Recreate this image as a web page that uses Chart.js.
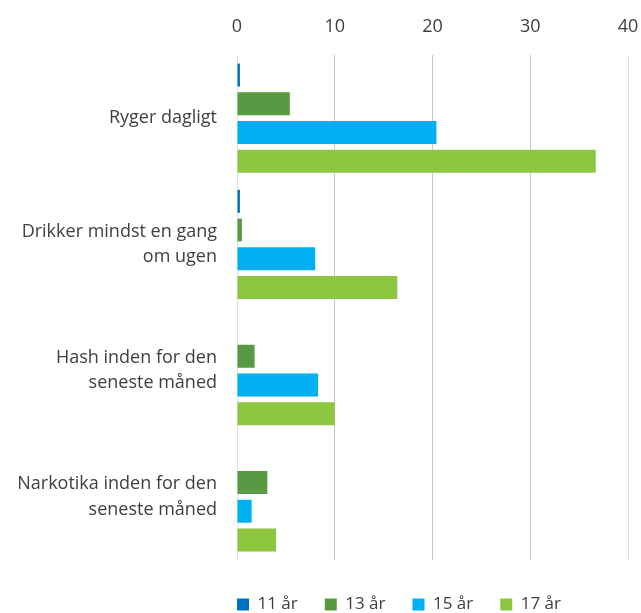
<!DOCTYPE html>
<html>
<head>
<meta charset="utf-8">
<script src="https://cdn.jsdelivr.net/npm/chart.js@4/dist/chart.umd.min.js"></script>
<style>
  html, body { margin: 0; padding: 0; background: #ffffff; }
  #wrap { width: 641px; height: 613px; position: relative; }
</style>
</head>
<body>
<div id="wrap"><canvas id="c" width="641" height="613"></canvas></div>
<script>
const categories = [
  "Ryger dagligt",
  ["Drikker mindst en gang", "om ugen"],
  ["Hash inden for den", "seneste måned"],
  ["Narkotika inden for den", "seneste måned"]
];
const seriesNames = ["11 år", "13 år", "15 år", "17 år"];
const age11 = [0.3, 0.3, null, null];
const age13 = [5.4, 0.5, 1.8, 3.1];
const age15 = [20.4, 8.0, 8.3, 1.5];
const age17 = [36.7, 16.4, 10.0, 4.0];
const xTicks = [0, 10, 20, 30, 40];

const colors = ["#0070C0", "#589A44", "#00B0F0", "#8DC63F"];
const seriesValues = [age11, age13, age15, age17];
const FONT = "'Open Sans', sans-serif";
const TEXT = "#404040";

const legendShift = {
  id: 'legendShift',
  afterLayout(chart) {
    const lg = chart.legend;
    if (!lg) return;
    const p = lg.options.labels.padding;
    const w = lg.right - lg.left;
    lg.left = 237 - p;
    lg.right = lg.left + w;
    lg.top += 9;
    lg.bottom += 9;
  }
};

new Chart(document.getElementById('c'), {
  type: 'bar',
  data: {
    labels: categories,
    datasets: seriesNames.map((n, i) => ({
      label: n,
      data: seriesValues[i],
      backgroundColor: colors[i],
      borderWidth: 0,
      barPercentage: 0.8,
      categoryPercentage: 0.91
    }))
  },
  options: {
    indexAxis: 'y',
    responsive: false,
    animation: false,
    devicePixelRatio: 1,
    layout: { padding: { top: 0, left: 0, right: 13, bottom: 0 } },
    plugins: {
      legend: {
        position: 'bottom',
        align: 'start',
        fullSize: true,
        maxHeight: 53,
        labels: {
          boxWidth: 12,
          boxHeight: 12,
          padding: 27,
          color: TEXT,
          font: { family: FONT, size: 17 }
        }
      },
      tooltip: { enabled: false }
    },
    scales: {
      x: {
        position: 'top',
        min: 0,
        max: 40,
        afterBuildTicks(scale) { scale.ticks = xTicks.map(v => ({ value: v })); },
        afterFit(scale) { scale.height = 55; scale.paddingLeft = 0; scale.paddingRight = 0; },
        border: { display: false },
        grid: {
          color: (ctx) => (ctx.index === 0 || ctx.index === xTicks.length - 1) ? '#dedede' : '#c6c6c6',
          lineWidth: 1,
          drawTicks: false
        },
        ticks: { color: TEXT, padding: 17, font: { family: FONT, size: 18 } }
      },
      y: {
        afterFit(scale) { scale.width = 237; scale.paddingTop = 0; scale.paddingBottom = 0; },
        border: { display: false },
        grid: { display: false, drawTicks: false },
        ticks: { color: TEXT, padding: 20, font: { family: FONT, size: 18, lineHeight: 1.4 } }
      }
    }
  },
  plugins: [legendShift]
});
</script>
</body>
</html>
